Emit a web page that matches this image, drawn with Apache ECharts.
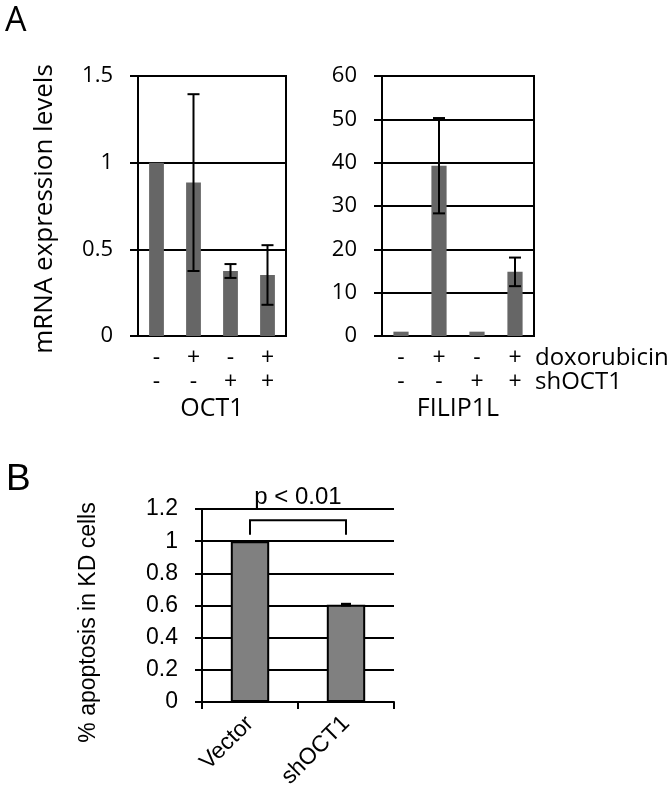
<!DOCTYPE html>
<html><head><meta charset="utf-8">
<script src="https://cdn.jsdelivr.net/npm/echarts@6/dist/echarts.min.js"></script>
<style>html,body{margin:0;padding:0;background:#fff}#c{width:672px;height:808px}</style>
</head><body><div id="c"></div>
<script>
// ---- data ----
const doxoRow = ['-', '+', '-', '+'];
const shRow = ['-', '-', '+', '+'];
const oct1Values = [1.0, 0.885, 0.375, 0.352];
const oct1Err = [0, 0.51, 0.04, 0.172];
const filipValues = [1.0, 39.3, 1.0, 14.8];
const filipErr = [0, 11.0, 0, 3.3];
const oct1Ticks = { min: 0, max: 1.5, interval: 0.5 };
const filipTicks = { min: 0, max: 60, interval: 10 };
const bCategories = ['Vector', 'shOCT1'];
const bValues = [1.0, 0.605];
const bErr = [0, 0.004];
const bTicks = { min: 0, max: 1.2, interval: 0.2 };
const pText = 'p < 0.01';
const bracketLevels = [1.13, 1.04]; // bracket top, bracket arm end
const pTextLevel = 1.275;

const FA = 'Open Sans';
const FB = 'Liberation Sans';

function errRender(capHalf, lw) {
  return function (params, api) {
    const i = api.value(0), v = api.value(1), e = api.value(2);
    if (!e) return null;
    const hi = api.coord([i, v + e]);
    const lo = api.coord([i, v - e]);
    const st = { stroke: '#000', lineWidth: lw };
    return {
      type: 'group',
      children: [
        { type: 'line', shape: { x1: hi[0], y1: hi[1], x2: lo[0], y2: lo[1] }, style: st },
        { type: 'line', shape: { x1: hi[0] - capHalf, y1: hi[1], x2: hi[0] + capHalf, y2: hi[1] }, style: st },
        { type: 'line', shape: { x1: lo[0] - capHalf, y1: lo[1], x2: lo[0] + capHalf, y2: lo[1] }, style: st }
      ]
    };
  };
}

const blackLine = { lineStyle: { color: '#000', width: 2 } };
const grid1 = { left: 138, top: 76, width: 148, height: 260 };
const grid2 = { left: 382, top: 76, width: 152, height: 260 };
const grid3 = { left: 202, top: 509, width: 192, height: 193 };

function aXAxis(idx, name) {
  return {
    type: 'category', gridIndex: idx,
    data: doxoRow.map((d, i) => d + '\n' + shRow[i]),
    axisLine: blackLine, axisTick: { show: false },
    axisLabel: { color: '#000', fontFamily: FA, fontSize: 23, lineHeight: 24, margin: 10 },
    name: name, nameLocation: 'middle', nameGap: 60,
    nameTextStyle: { color: '#000', fontFamily: FA, fontSize: 25 }
  };
}
function aYAxis(idx, t, name) {
  return {
    type: 'value', gridIndex: idx, min: t.min, max: t.max, interval: t.interval,
    axisLine: { show: true, lineStyle: { color: '#000', width: 2 } },
    axisTick: { show: true, length: 8, lineStyle: { color: '#000', width: 2 } },
    axisLabel: { color: '#000', fontFamily: FA, fontSize: 22, margin: 25 },
    splitLine: { show: true, lineStyle: { color: '#000', width: 2 } },
    name: name, nameLocation: 'middle', nameGap: 80, nameRotate: 90,
    nameTextStyle: { color: '#000', fontFamily: FA, fontSize: 26, padding: [0, 6, 0, 0] }
  };
}

const option = {
  animation: false,
  backgroundColor: '#fff',
  grid: [
    Object.assign({ show: true, borderColor: '#000', borderWidth: 2 }, grid1),
    Object.assign({ show: true, borderColor: '#000', borderWidth: 2 }, grid2),
    grid3
  ],
  xAxis: [
    aXAxis(0, 'OCT1'),
    aXAxis(1, 'FILIP1L'),
    {
      type: 'category', gridIndex: 2, data: bCategories,
      axisLine: blackLine,
      axisTick: { show: true, length: 7, interval: 0, lineStyle: { color: '#000', width: 2 } },
      axisLabel: { color: '#000', fontFamily: FB, fontSize: 23, rotate: 45, margin: 18, interval: 0 }
    }
  ],
  yAxis: [
    aYAxis(0, oct1Ticks, 'mRNA expression levels'),
    aYAxis(1, filipTicks, ''),
    {
      type: 'value', gridIndex: 2, min: bTicks.min, max: bTicks.max, interval: bTicks.interval,
      axisLine: { show: true, lineStyle: { color: '#000', width: 2 } },
      axisTick: { show: true, length: 7, lineStyle: { color: '#000', width: 2 } },
      axisLabel: { color: '#000', fontFamily: FB, fontSize: 23, margin: 24 },
      splitLine: { show: true, lineStyle: { color: '#000', width: 2 } },
      name: '% apoptosis in KD cells', nameLocation: 'middle', nameGap: 102, nameRotate: 90,
      nameTextStyle: { color: '#000', fontFamily: FB, fontSize: 23, padding: [0, 34, 0, 0] }
    }
  ],
  series: [
    { type: 'bar', xAxisIndex: 0, yAxisIndex: 0, data: oct1Values, barWidth: '40%', itemStyle: { color: '#666666' } },
    { type: 'custom', xAxisIndex: 0, yAxisIndex: 0, renderItem: errRender(6, 2),
      data: oct1Values.map((v, i) => [i, v, oct1Err[i]]), z: 5 },
    { type: 'bar', xAxisIndex: 1, yAxisIndex: 1, data: filipValues, barWidth: '40%', itemStyle: { color: '#666666' } },
    { type: 'custom', xAxisIndex: 1, yAxisIndex: 1, renderItem: errRender(6, 2),
      data: filipValues.map((v, i) => [i, v, filipErr[i]]), z: 5 },
    { type: 'bar', xAxisIndex: 2, yAxisIndex: 2, data: bValues, barWidth: '40%',
      itemStyle: { color: '#808080', borderColor: '#000', borderWidth: 2 } },
    { type: 'custom', xAxisIndex: 2, yAxisIndex: 2, renderItem: errRender(5, 2.5),
      data: bValues.map((v, i) => [i, v, bErr[i]]), z: 5 },
    { type: 'custom', xAxisIndex: 2, yAxisIndex: 2, z: 5, clip: false,
      data: [[0, 1]],
      renderItem: function (params, api) {
        const a = api.coord([api.value(0), bracketLevels[0]]);
        const b = api.coord([api.value(1), bracketLevels[0]]);
        const ae = api.coord([api.value(0), bracketLevels[1]]);
        const t = api.coord([api.value(0), pTextLevel]);
        const st = { stroke: '#000', lineWidth: 2, fill: null };
        return {
          type: 'group',
          children: [
            { type: 'polyline', shape: { points: [[a[0], ae[1]], a, b, [b[0], ae[1]]] }, style: st },
            { type: 'text', x: (a[0] + b[0]) / 2, y: t[1],
              style: { text: pText, fill: '#000', font: '24px "Liberation Sans"', align: 'center', verticalAlign: 'middle' } }
          ]
        };
      }
    }
  ],
  graphic: [
    { type: 'text', left: 5, top: 4, style: { text: 'A', fill: '#000', font: '34px "Open Sans"' } },
    { type: 'text', left: 6, top: 461, style: { text: 'B', fill: '#000', font: '37px "Liberation Sans"' } },
    { type: 'text', x: 535, y: 358, style: { text: 'doxorubicin', fill: '#000', font: '24px "Open Sans"', verticalAlign: 'middle' } },
    { type: 'text', x: 535, y: 382, style: { text: 'shOCT1', fill: '#000', font: '24px "Open Sans"', verticalAlign: 'middle' } }
  ]
};

const chart = echarts.init(document.getElementById('c'), null, { renderer: 'canvas' });
chart.setOption(option);
</script>
</body></html>
